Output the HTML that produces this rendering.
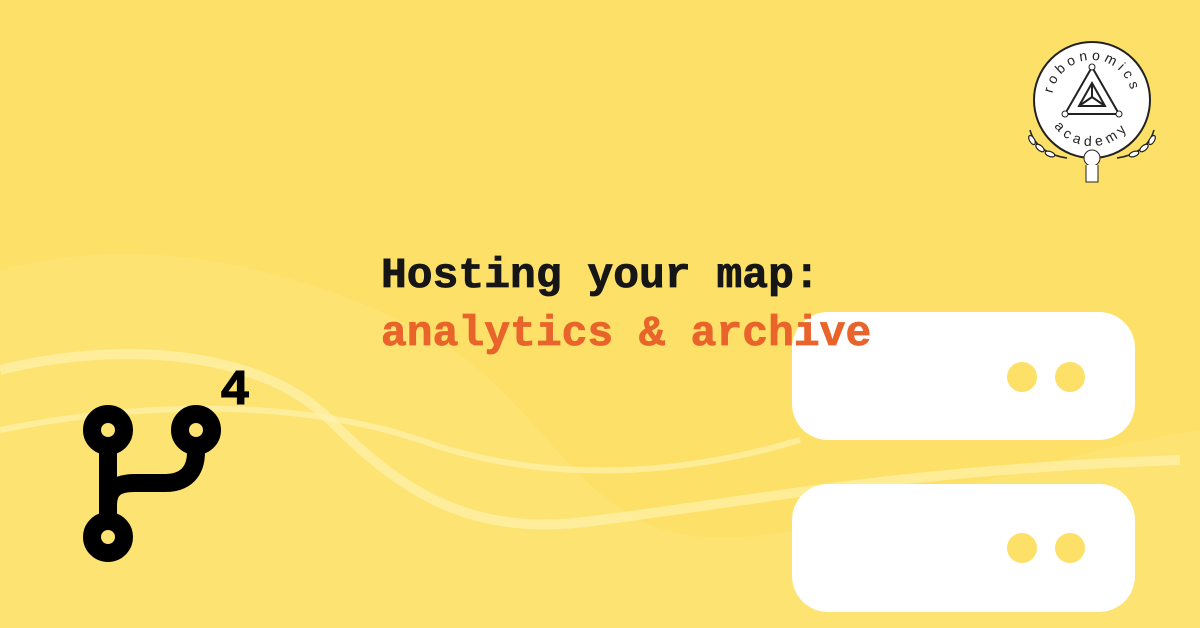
<!DOCTYPE html>
<html><head><meta charset="utf-8"><style>
html,body{margin:0;padding:0}
body{width:1200px;height:628px;overflow:hidden;background:#fde068;position:relative;font-family:"Liberation Mono",monospace}
svg{position:absolute;left:0;top:0}
.t{position:absolute;left:381px;font-size:43px;font-weight:bold;white-space:pre;line-height:1;-webkit-text-stroke:0.8px currentColor}
</style></head><body>
<svg width="1200" height="628" viewBox="0 0 1200 628">
<path d="M0 270 C150 230 300 270 420 330 C520 380 560 480 640 520 C760 580 950 470 1200 430 L1200 628 L0 628Z" fill="#fee57a" opacity="0.5"/>
<path d="M0 370 C120 340 260 350 330 420 C400 490 470 540 600 520 C760 500 900 470 1180 460" stroke="#fff4b8" stroke-width="10" fill="none" opacity="0.6"/>
<path d="M0 430 C150 400 300 400 420 440 C560 490 700 470 800 440" stroke="#fff4b8" stroke-width="6" fill="none" opacity="0.6"/>
<rect x="792" y="312" width="343" height="128" rx="36" fill="#fff"/>
<rect x="792" y="484" width="343" height="128" rx="36" fill="#fff"/>
<circle cx="1022" cy="377" r="15" fill="#fde068"/><circle cx="1070" cy="377" r="15" fill="#fde068"/>
<circle cx="1022" cy="548" r="15" fill="#fde068"/><circle cx="1070" cy="548" r="15" fill="#fde068"/>
<g stroke="#000" stroke-width="18" fill="none">
<circle cx="108" cy="430" r="16"/><circle cx="196" cy="430" r="16"/><circle cx="108" cy="537" r="16"/>
<path d="M108 446 L108 521"/>
<path d="M108 505 C108 488 118 483 135 483 L165 483 C185 483 196 472 196 452 L196 446"/>
</g>
<text x="220" y="404" font-family="Liberation Mono, monospace" font-weight="bold" font-size="50" stroke="#000" stroke-width="1">4</text>
<g transform="translate(1092,100)">
<circle r="58" fill="#fff" stroke="#222" stroke-width="2"/>
<path d="M0 -33 L-27 14 L27 14Z" fill="none" stroke="#222" stroke-width="2"/>
<path d="M0 -17 L-13 6 L13 6Z M0 -17 L0 -3 M-13 6 L0 -3 L13 6" fill="none" stroke="#222" stroke-width="2"/>
<circle cx="0" cy="-33" r="3" fill="#fff" stroke="#222"/><circle cx="-27" cy="14" r="3" fill="#fff" stroke="#222"/><circle cx="27" cy="14" r="3" fill="#fff" stroke="#222"/>
<path id="tp" d="M-40 0 A40 40 0 0 1 40 0" fill="none"/>
<text font-family="Liberation Sans, sans-serif" font-size="14" fill="#222" letter-spacing="4" text-anchor="middle"><textPath href="#tp" startOffset="50%">robonomics</textPath></text>
<path id="bp" d="M-48 0 A48 48 0 0 0 48 0" fill="none"/>
<text font-family="Liberation Sans, sans-serif" font-size="14" fill="#222" letter-spacing="5" text-anchor="middle" dy="-2"><textPath href="#bp" startOffset="50%">academy</textPath></text>
<circle cx="0" cy="58" r="8" fill="#fff" stroke="#222"/>
<path d="M-6 65 L-6 82 L6 82 L6 65" fill="#fff" stroke="#222"/>
<path d="M-62 30 C-58 45 -45 55 -25 58 M62 30 C58 45 45 55 25 58" stroke="#222" fill="none" stroke-width="1.5"/>
<g fill="#fff" stroke="#222" stroke-width="1.2">
<ellipse cx="-60" cy="40" rx="2.5" ry="5" transform="rotate(-30 -60 40)"/><ellipse cx="-52" cy="48" rx="2.5" ry="5" transform="rotate(-50 -52 48)"/><ellipse cx="-42" cy="54" rx="2.5" ry="5" transform="rotate(-70 -42 54)"/>
<ellipse cx="60" cy="40" rx="2.5" ry="5" transform="rotate(30 60 40)"/><ellipse cx="52" cy="48" rx="2.5" ry="5" transform="rotate(50 52 48)"/><ellipse cx="42" cy="54" rx="2.5" ry="5" transform="rotate(70 42 54)"/>
</g>
</g>
</svg>
<div class="t" style="top:254px;color:#161616">Hosting your map:</div>
<div class="t" style="top:312px;color:#e8642a">analytics &amp; archive</div>
</body></html>
